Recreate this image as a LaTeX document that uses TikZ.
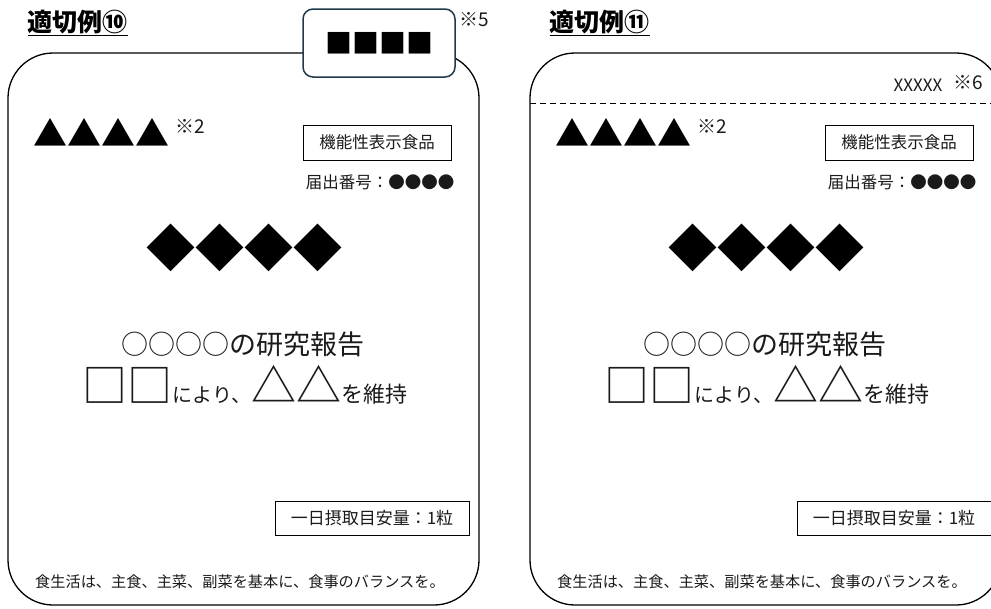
\documentclass[tikz,border=0pt]{standalone}
\usepackage{fontspec}
\setmainfont{Noto Sans CJK JP}
\usepackage{xcolor}
\usepackage{tikz}
\usetikzlibrary{scopes}

\definecolor{tagline}{HTML}{1F3A4D}
\definecolor{ink}{HTML}{1A1A1A}

\begin{document}
\begin{tikzpicture}[x=1pt,y=-1pt,line width=1.2pt,text=ink]

    \useasboundingbox (0,0) rectangle (991,608);
    \clip (0,0) rectangle (991,608);

    \def\fs#1{\fontsize{#1}{#1}\selectfont}

    \tikzset{
      frame/.style={draw=black,line width=1.3pt,rounded corners=45pt},
      plainbox/.style={draw=black,line width=0.9pt,inner sep=0pt,align=center},
      word/.style={inner sep=0pt},
      mark note/.style={inner sep=0pt,anchor=base west,font=\fs{19}}
    }

    \def\content#1{
      \draw[frame] (8,53) rectangle (479,605);
      \node[word,anchor=base west,text=black] (#1-tri) at (33,146) {\fs{34}▲▲▲▲};
      \node[mark note] (#1-note2) at (175,133) {※2};
      \node[plainbox,minimum width=148pt,minimum height=35pt] (#1-kinou) at (377,142.5) {\fs{16.5}機能性表示食品};
      \node[word,anchor=east] (#1-todoke) at (455,182) {\fs{16.5}届出番号：●●●●};
      \node[word,text=black] (#1-dia) at (244,248) {\fs{49}◆◆◆◆};
      \node[word] (#1-report) at (243,344) {\fs{27}○○○○の研究報告};
      \node[word,anchor=base] (#1-claim) at (245,402)
        {\fs{45}□□\fs{20}により、\fs{45}△△\fs{22}を維持};
      \node[plainbox,minimum width=194pt,minimum height=34pt] (#1-dose) at (372,518) {\fs{17}一日摂取目安量：1粒};
      \node[word] (#1-foot) at (240,582) {\fs{15.2}食生活は、主食、主菜、副菜を基本に、食事のバランスを。};
    }

    % left: example 10
    \begin{scope}[ shift = ({ 0 , 0 }) ]
      \content{ten}
      \node[word,anchor=base west,text=black] (ten-title) at (27,31) {\fs{25}\bfseries\underline{適切例⑩}};
      \node[draw=tagline,line width=1.5pt,fill=white,rounded corners=10pt,text=black,
            minimum width=152pt,minimum height=68pt] (ten-tag) at (379,43) {\fs{27}■■■■};
      \node[mark note] (ten-note5) at (459,26) {※5};
    \end{scope}

    % right: example 11
    \begin{scope}[ shift = ({ 522 , 0 }) ]
      \content{eleven}
      \node[word,anchor=base west,text=black] (eleven-title) at (27,31) {\fs{25}\bfseries\underline{適切例⑪}};
      \coordinate (eleven-dl) at (8,103);
      \coordinate (eleven-dr) at (479,103);
      \draw[line width=0.9pt,dash pattern=on 6pt off 4pt] (eleven-dl) -- (eleven-dr);
      \node[word,anchor=base east] (eleven-xx) at (421,91) {\fs{17}XXXXX};
      \node[mark note] (eleven-note6) at (431,89) {※6};
    \end{scope}

\end{tikzpicture}
\end{document}
